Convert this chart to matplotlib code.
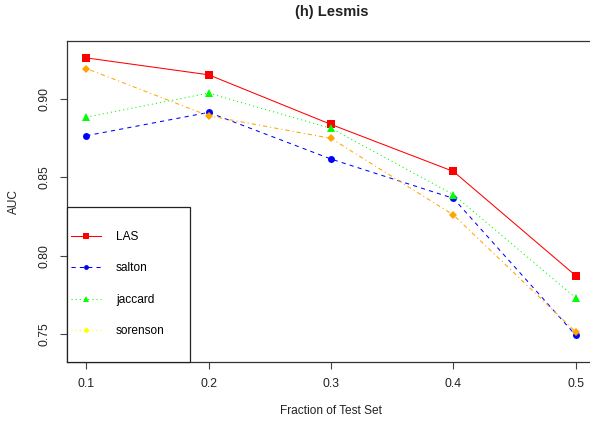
# AUC vs fraction of test set, Lesmis network
import matplotlib
matplotlib.use('Agg')
import matplotlib.pyplot as plt
from matplotlib.lines import Line2D
from matplotlib.patches import Rectangle

plt.rcParams['font.family'] = ['Liberation Sans', 'DejaVu Sans']
plt.rcParams['lines.scale_dashes'] = False

fractions = [0.1, 0.2, 0.3, 0.4, 0.5]
las = [0.9263, 0.9155, 0.8838, 0.8538, 0.7872]
salton = [0.8766, 0.8915, 0.8617, 0.8366, 0.7492]
jaccard = [0.8885, 0.9038, 0.8813, 0.8390, 0.7730]
sorenson = [0.9195, 0.8893, 0.8749, 0.8260, 0.7513]

x_ticks = [0.1, 0.2, 0.3, 0.4, 0.5]
x_tick_labels = ['0.1', '0.2', '0.3', '0.4', '0.5']
y_ticks = [0.75, 0.80, 0.85, 0.90]
y_tick_labels = ['0.75', '0.80', '0.85', '0.90']
legend_labels = ['LAS', 'salton', 'jaccard', 'sorenson']

fig = plt.figure(figsize=(5.9, 4.26), dpi=100)
ax = fig.add_axes([0.1136, 0.1502, 0.8959, 0.7547])

lw = 0.75
ax.plot(fractions, las, color='#FF0000', lw=lw, linestyle='-',
        marker='s', markersize=5.2, markeredgewidth=0)
ax.plot(fractions, salton, color='#0000FF', lw=lw, linestyle=(0, (3, 3)),
        marker='o', markersize=5, markeredgewidth=0)
ax.plot(fractions, jaccard, color='#00FF00', lw=lw, linestyle=(0, (0.8, 2.2)),
        marker='^', markersize=6, markeredgewidth=0)
ax.plot(fractions, sorenson, color='#FFA500', lw=lw, linestyle=(0, (0.8, 2.2, 3, 2.2)),
        marker='D', markersize=3.6, markeredgewidth=0)

ax.set_xlim(0.0842, 0.5162)
ax.set_ylim(0.7321, 0.9374)

ax.set_xticks(x_ticks)
ax.set_xticklabels(x_tick_labels)
ax.set_yticks(y_ticks)
ax.set_yticklabels(y_tick_labels, rotation=90, va='center')
ax.tick_params(axis='both', direction='out', length=5, width=0.8,
               color='#444444', labelsize=8.8, labelcolor='#222222')
ax.tick_params(axis='x', pad=6.3)
ax.tick_params(axis='y', pad=7)
for s in ax.spines.values():
    s.set_color('#333333')
    s.set_linewidth(0.9)

ax.set_xlabel('Fraction of Test Set', fontsize=8.6, color='#222222')
ax.xaxis.set_label_coords(0.5, -0.134)
ax.set_ylabel('AUC', fontsize=8.6, color='#222222')
ax.yaxis.set_label_coords(-0.089, 0.5)
ax.text(0.5, 1.0886, '(h) Lesmis', transform=ax.transAxes, ha='center',
        va='center', fontsize=10.5, fontweight='bold', color='#222222')

# legend box in the lower left, R style
ax.add_patch(Rectangle((0, 0), 0.2327, 0.482, transform=ax.transAxes,
                       facecolor='white', edgecolor='#222222', lw=0.9,
                       zorder=5, clip_on=False))
handles = [
    Line2D([], [], color='#FF0000', lw=lw, linestyle='-', marker='s',
           markersize=4.5, markeredgewidth=0),
    Line2D([], [], color='#0000FF', lw=lw, linestyle=(0, (3, 3)), marker='o',
           markersize=3.5, markeredgewidth=0),
    Line2D([], [], color='#00FF00', lw=lw, linestyle=(0, (0.8, 2.2)), marker='^',
           markersize=5, markeredgewidth=0),
    Line2D([], [], color='#FFFF00', lw=lw, linestyle=(0, (0.8, 2.2)), marker='o',
           markersize=3.5, markeredgewidth=0),
]
leg = ax.legend(handles, legend_labels, loc='center left',
                bbox_to_anchor=(0.0076, 0.2426), frameon=False, borderpad=0,
                fontsize=8.6, handlelength=2.55, handletextpad=1.2,
                labelspacing=1.62, borderaxespad=0)
leg.set_zorder(6)

fig.savefig('out.png', dpi=100)
